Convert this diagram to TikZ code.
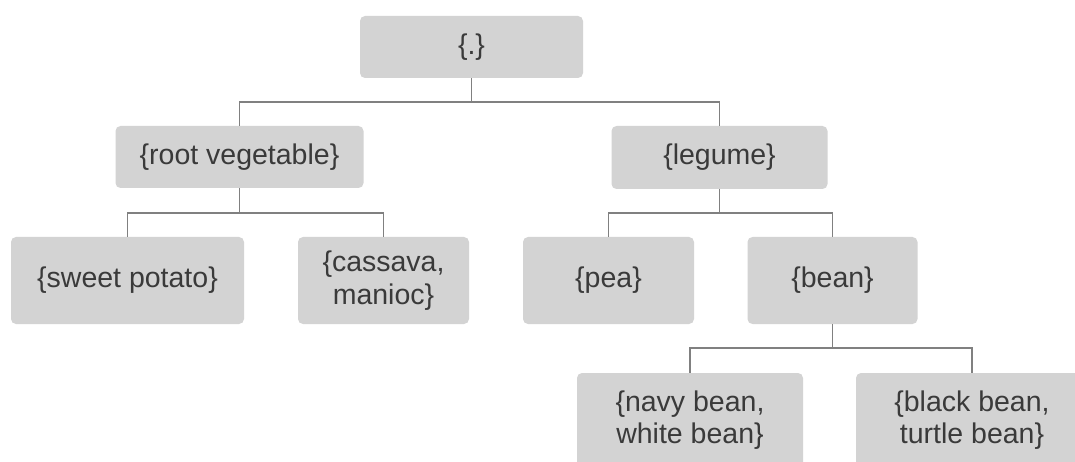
\documentclass[tikz,border=0pt]{standalone}
\usepackage{fontspec}
\setmainfont{Liberation Sans}
\definecolor{boxfill}{RGB}{211,211,211}
\definecolor{linecol}{RGB}{128,128,128}
\definecolor{txtcol}{RGB}{58,58,58}
\begin{document}
\begin{tikzpicture}[x=1pt,y=-1pt,
  box/.style={rectangle, rounded corners=5pt, fill=boxfill, draw=none,
    text=txtcol, align=center, inner sep=0pt,
    font=\fontsize{28.5}{32.5}\selectfont},
  conn/.style={draw=linecol, line width=1.4pt}]
\useasboundingbox (0,0) rectangle (1075,462);
\clip (0,0) rectangle (1075,462);
\fill[white] (0,0) rectangle (1075,462);

\node[box, minimum width=223pt, minimum height=62pt] (root) at (471.5,47) {\{.\}};
\node[box, minimum width=248pt, minimum height=62pt] (rv) at (239.5,157) {\{root vegetable\}};
\node[box, minimum width=216pt, minimum height=63pt] (leg) at (719.5,157.5) {\{legume\}};
\node[box, minimum width=233pt, minimum height=87pt] (sp) at (127.5,280.5) {\{sweet potato\}};
\node[box, minimum width=171pt, minimum height=87pt] (cas) at (383.5,280.5) {\{cassava,\\manioc\}};
\node[box, minimum width=171pt, minimum height=87pt] (pea) at (608.5,280.5) {\{pea\}};
\node[box, minimum width=170pt, minimum height=87pt] (bean) at (832.5,280.5) {\{bean\}};
\node[box, minimum width=226pt, minimum height=94pt] (navy) at (690,420) {\{navy bean,\\white bean\}};
\node[box, minimum width=232pt, minimum height=94pt] (black) at (972,420) {\{black bean,\\turtle bean\}};

\coordinate (b1) at (472,102);
\coordinate (b2) at (239,213);
\coordinate (b3) at (719,213);
\coordinate (b4) at (833,348);

\draw[conn] (root.south) -- (root.south |- b1);
\draw[conn] (rv.north) |- (b1) -| (leg.north);

\draw[conn] (rv.south) -- (rv.south |- b2);
\draw[conn] (sp.north) |- (b2) -| (cas.north);

\draw[conn] (leg.south) -- (leg.south |- b3);
\draw[conn] (pea.north) |- (b3) -| (bean.north);

\draw[conn] (bean.south) -- (bean.south |- b4);
\draw[conn] (navy.north) |- (b4) -| (black.north);
\end{tikzpicture}
\end{document}
